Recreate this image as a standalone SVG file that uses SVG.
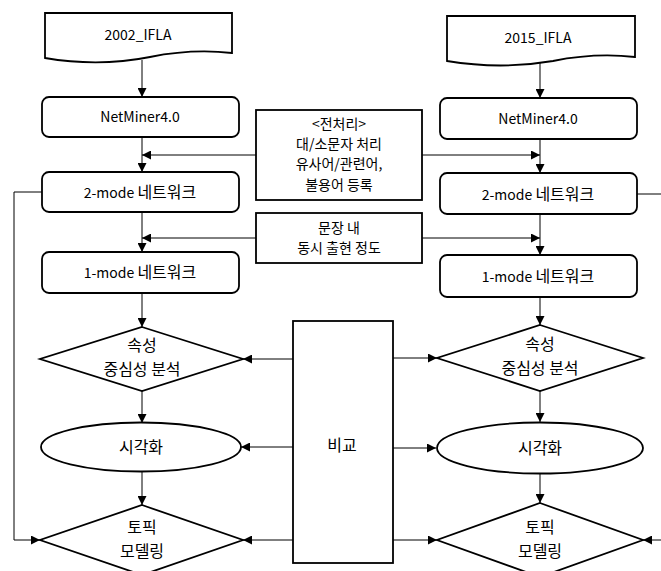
<svg xmlns="http://www.w3.org/2000/svg" width="661" height="571" viewBox="0 0 661 571">
<style>
.shape{fill:#fff;stroke:#000;stroke-width:1.8}
.conn{fill:none;stroke:#000;stroke-width:1}
text{font-family:"Noto Sans CJK KR","Noto Sans",sans-serif;fill:#000;text-anchor:middle}
.l{font-size:14px}
.k{font-size:16px}
.s{font-size:14px}
</style>
<defs>
<marker id="arr" viewBox="0 0 10 10" refX="10" refY="5" markerWidth="9" markerHeight="9" markerUnits="userSpaceOnUse" orient="auto">
<path d="M0,0 L10,5 L0,10 z" fill="#000"/>
</marker>
</defs>
<rect width="661" height="571" fill="#fff"/>

<g id="connectors">
<line class="conn" x1="142" y1="60" x2="142" y2="97" marker-end="url(#arr)"/>
<line class="conn" x1="142" y1="137" x2="142" y2="172" marker-end="url(#arr)"/>
<line class="conn" x1="142" y1="212" x2="142" y2="252" marker-end="url(#arr)"/>
<line class="conn" x1="142" y1="293" x2="142" y2="327" marker-end="url(#arr)"/>
<line class="conn" x1="142" y1="391" x2="142" y2="423" marker-end="url(#arr)"/>
<line class="conn" x1="142" y1="472" x2="142" y2="505" marker-end="url(#arr)"/>
<line class="conn" x1="256" y1="155" x2="142" y2="155" marker-end="url(#arr)"/>
<line class="conn" x1="256" y1="238" x2="142" y2="238" marker-end="url(#arr)"/>
<line class="conn" x1="422" y1="155" x2="540" y2="155" marker-end="url(#arr)"/>
<line class="conn" x1="422" y1="238" x2="540" y2="238" marker-end="url(#arr)"/>
<line class="conn" x1="540" y1="63" x2="540" y2="98" marker-end="url(#arr)"/>
<line class="conn" x1="540" y1="139" x2="540" y2="173" marker-end="url(#arr)"/>
<line class="conn" x1="540" y1="214" x2="540" y2="255" marker-end="url(#arr)"/>
<line class="conn" x1="540" y1="297" x2="540" y2="325" marker-end="url(#arr)"/>
<line class="conn" x1="540" y1="391" x2="540" y2="422" marker-end="url(#arr)"/>
<line class="conn" x1="540" y1="473" x2="540" y2="503" marker-end="url(#arr)"/>
<path class="conn" d="M42,192 H14 V540 H40" marker-end="url(#arr)"/>
<path class="conn" d="M637,194 H664 V540 H643" marker-end="url(#arr)"/>
<line class="conn" x1="293" y1="359" x2="243" y2="359" marker-end="url(#arr)"/>
<line class="conn" x1="293" y1="447" x2="241" y2="447" marker-end="url(#arr)"/>
<line class="conn" x1="293" y1="540" x2="243" y2="540" marker-end="url(#arr)"/>
<line class="conn" x1="393" y1="358" x2="437" y2="358" marker-end="url(#arr)"/>
<line class="conn" x1="393" y1="448" x2="436" y2="448" marker-end="url(#arr)"/>
<line class="conn" x1="393" y1="540" x2="437" y2="540" marker-end="url(#arr)"/>
</g>

<g id="doc2002">
<path class="shape" d="M45,13 H232 V53 C205,50 175,52 150,57 C115,64 80,64 45,58 Z"/>
<text class="l" x="138" y="40">2002_IFLA</text>
</g>
<g id="netminer-left">
<rect class="shape" x="42" y="97" width="197" height="40" rx="7"/>
<text class="l" x="140" y="122">NetMiner4.0</text>
</g>
<g id="twomode-left">
<rect class="shape" x="42" y="172" width="197" height="40" rx="7"/>
<text x="140" y="198"><tspan class="l">2-mode </tspan><tspan class="k">네트워크</tspan></text>
</g>
<g id="onemode-left">
<rect class="shape" x="42" y="252" width="197" height="41" rx="7"/>
<text x="140" y="278"><tspan class="l">1-mode </tspan><tspan class="k">네트워크</tspan></text>
</g>
<g id="centrality-left">
<polygon class="shape" points="142,327 243,359 142,391 40,359"/>
<text class="k" x="142" y="351">속성<tspan x="142" dy="23.5">중심성 분석</tspan></text>
</g>
<g id="visual-left">
<ellipse class="shape" cx="141" cy="447" rx="100" ry="24.5"/>
<text class="k" x="141" y="453">시각화</text>
</g>
<g id="topic-left">
<polygon class="shape" points="142,505 243,540 142,575 40,540"/>
<text class="k" x="142" y="533">토픽<tspan x="142" dy="23.5">모델링</tspan></text>
</g>

<g id="preprocess">
<rect class="shape" x="256" y="110" width="166" height="90"/>
<text class="s" x="339" y="128.5">&lt;전처리&gt;<tspan x="339" dy="20.4">대/소문자 처리</tspan><tspan x="339" dy="20.4">유사어/관련어,</tspan><tspan x="339" dy="20.4">불용어 등록</tspan></text>
</g>
<g id="cooccurrence">
<rect class="shape" x="256" y="213" width="166" height="50"/>
<text class="s" x="339" y="232.6">문장 내<tspan x="339" dy="20.4">동시 출현 정도</tspan></text>
</g>
<g id="compare">
<rect class="shape" x="293" y="321" width="100" height="242"/>
<text class="k" x="342" y="451">비교</text>
</g>

<g id="doc2015">
<path class="shape" d="M447,16 H635 V57 C608,54 578,56 553,61 C518,67 483,67 447,61 Z"/>
<text class="l" x="538" y="43">2015_IFLA</text>
</g>
<g id="netminer-right">
<rect class="shape" x="440" y="98" width="197" height="41" rx="7"/>
<text class="l" x="538" y="124">NetMiner4.0</text>
</g>
<g id="twomode-right">
<rect class="shape" x="440" y="173" width="197" height="41" rx="7"/>
<text x="538" y="200"><tspan class="l">2-mode </tspan><tspan class="k">네트워크</tspan></text>
</g>
<g id="onemode-right">
<rect class="shape" x="440" y="255" width="197" height="42" rx="7"/>
<text x="538" y="282"><tspan class="l">1-mode </tspan><tspan class="k">네트워크</tspan></text>
</g>
<g id="centrality-right">
<polygon class="shape" points="540,325 643,358 540,391 437,358"/>
<text class="k" x="540" y="350">속성<tspan x="540" dy="23.5">중심성 분석</tspan></text>
</g>
<g id="visual-right">
<ellipse class="shape" cx="540" cy="448" rx="103" ry="25.5"/>
<text class="k" x="540" y="454">시각화</text>
</g>
<g id="topic-right">
<polygon class="shape" points="540,503 643,540 540,577 437,540"/>
<text class="k" x="540" y="533">토픽<tspan x="540" dy="23.5">모델링</tspan></text>
</g>
</svg>
